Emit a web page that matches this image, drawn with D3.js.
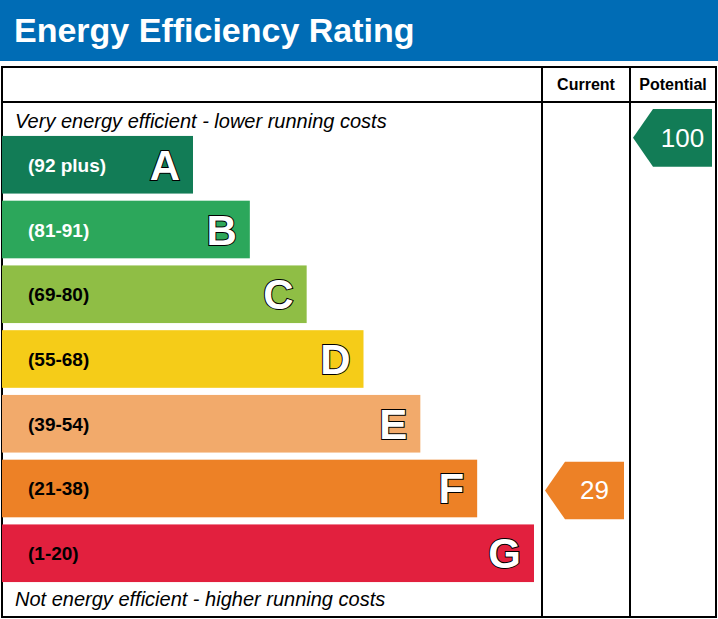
<!DOCTYPE html>
<html><head><meta charset="utf-8">
<script src="https://cdn.jsdelivr.net/npm/d3@7"></script>
<style>body{margin:0;background:#fff}text{font-family:Arial,"Liberation Sans",sans-serif}</style>
</head><body>
<script>
// bands, top (best) to bottom
const letters = ["A","B","C","D","E","F","G"];
const ranges = ["(92 plus)","(81-91)","(69-80)","(55-68)","(39-54)","(21-38)","(1-20)"];
const bandMin = [92,81,69,55,39,21,1];
const colours = ["#127c56","#2ca75b","#8fbe45","#f5cc18","#f2aa6b","#ed8126","#e2203e"];
const current = 29, potential = 100;

const W = 718, H = 619;
const svg = d3.select("body").append("svg").attr("width", W).attr("height", H);

svg.append("rect").attr("x",0).attr("y",0).attr("width",W).attr("height",61).attr("fill","#006cb5");
svg.append("text").attr("x",14).attr("y",42).attr("fill","#fff").attr("font-size",34).attr("font-weight","bold")
    .text("Energy Efficiency Rating");

const tLeft = 2, tRight = 716, tTop = 67, tBottom = 617, c1 = 542, c2 = 630, headY = 102;
let g = svg.append("g").attr("stroke","#000").attr("stroke-width",2).attr("fill","none");
g.append("rect").attr("x",tLeft).attr("y",tTop).attr("width",tRight-tLeft).attr("height",tBottom-tTop);
g.append("line").attr("x1",tLeft).attr("x2",tRight).attr("y1",headY).attr("y2",headY);
g.append("line").attr("x1",c1).attr("x2",c1).attr("y1",tTop).attr("y2",tBottom);
g.append("line").attr("x1",c2).attr("x2",c2).attr("y1",tTop).attr("y2",tBottom);

svg.append("text").attr("x",(c1+c2)/2).attr("y",90).attr("text-anchor","middle").attr("font-size",16).attr("font-weight","bold").text("Current");
svg.append("text").attr("x",(c2+tRight)/2).attr("y",90).attr("text-anchor","middle").attr("font-size",16).attr("font-weight","bold").text("Potential");

svg.append("text").attr("x",15).attr("y",128).attr("font-size",20).attr("font-style","italic").text("Very energy efficient - lower running costs");
svg.append("text").attr("x",15).attr("y",606).attr("font-size",20).attr("font-style","italic").text("Not energy efficient - higher running costs");

const y = d3.scaleBand().domain(letters).range([134,584]).paddingInner(0.11).paddingOuter(0.03);
const w = d3.scaleLinear().domain([0,6]).range([191,532]);

const bars = svg.selectAll(".bar").data(letters).join("g").attr("transform", d => `translate(2,${y(d)})`);
bars.append("rect").attr("width",(d,i)=>w(i)).attr("height",y.bandwidth()).attr("fill",(d,i)=>colours[i]);
bars.append("text").attr("x",26).attr("y",y.bandwidth()/2+7).attr("font-size",19).attr("font-weight","bold")
    .attr("fill",(d,i)=> i<2 ? "#fff" : "#000").text((d,i)=>ranges[i]);
bars.append("text").attr("x",(d,i)=>w(i)-13).attr("y",y.bandwidth()/2+15).attr("text-anchor","end")
    .attr("font-size",42).attr("font-weight","bold").attr("fill","#fff").attr("stroke","#000").attr("stroke-width",2)
    .attr("paint-order","stroke").text(d=>d);

const band = v => bandMin.findIndex(m => v >= m);
function arrow(v, x0, x1, ty) {
  let i = band(v), h = y.bandwidth();
  let yy = ty != null ? ty : y(letters[i]) + 2;
  svg.append("path").attr("fill",colours[i])
     .attr("d",`M${x0},${yy+h/2} L${x0+20},${yy} L${x1},${yy} L${x1},${yy+h} L${x0+20},${yy+h} Z`);
  svg.append("text").attr("x",(x0+x1)/2+10).attr("y",yy+h/2+9).attr("text-anchor","middle")
     .attr("font-size",26).attr("fill","#fff").text(v);
}
arrow(current, 545, 624);
arrow(potential, 633, 712, 109);
</script>
</body></html>
